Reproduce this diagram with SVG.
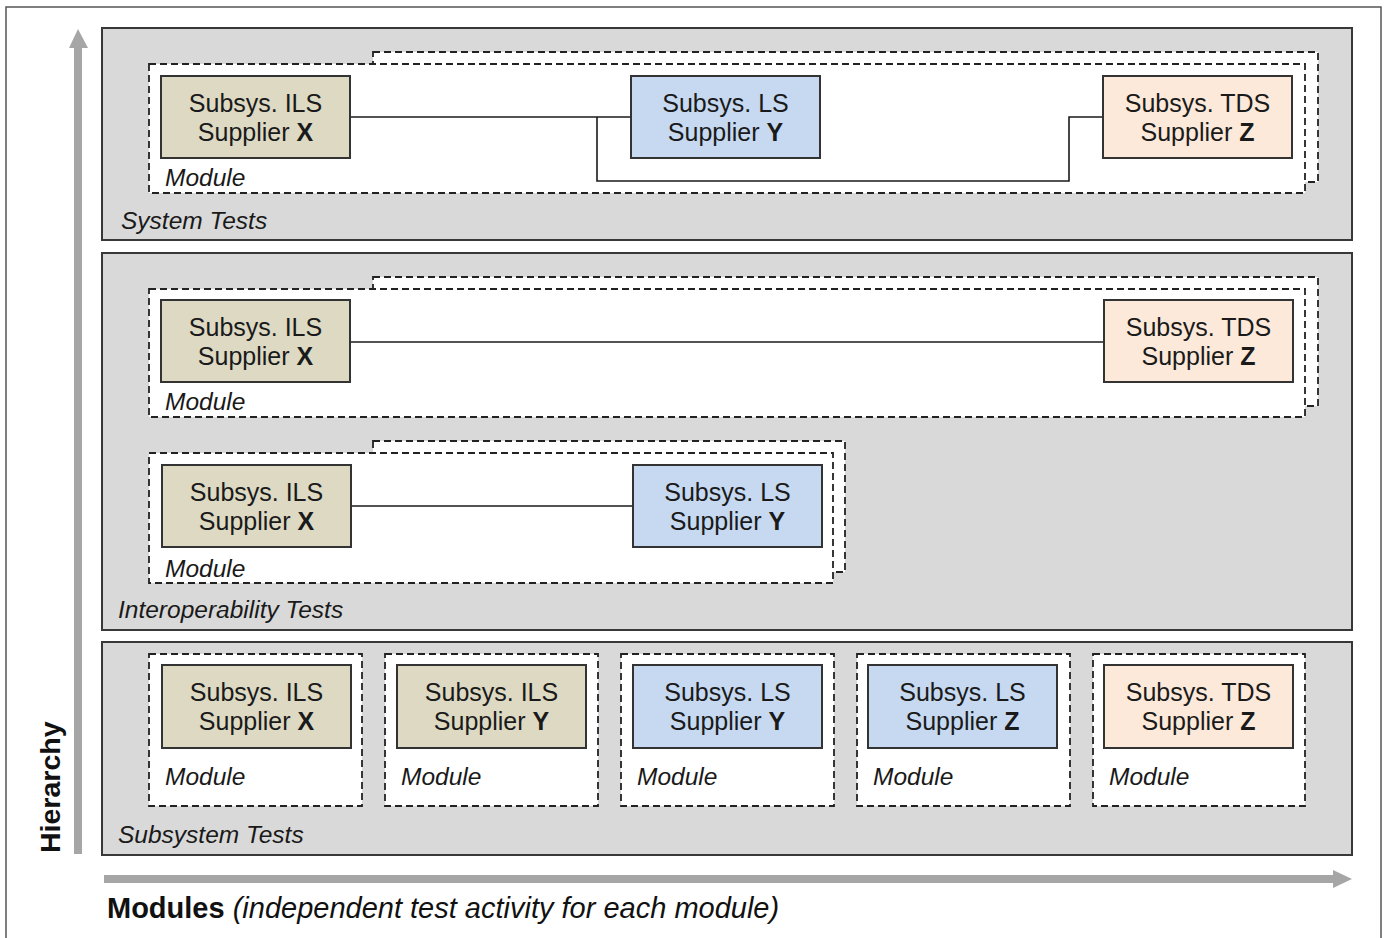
<svg xmlns="http://www.w3.org/2000/svg" width="1387" height="938" viewBox="0 0 1387 938">
<style>
.frame{fill:#fff;stroke:#555;stroke-width:1.5}
.panel{fill:#d9d9d9;stroke:#383838;stroke-width:2}
.mod{fill:#fff;stroke:#222;stroke-width:1.8;stroke-dasharray:7 4}
.node{stroke:#333;stroke-width:2}
.ils{fill:#ddd9c3}
.ls{fill:#c6d9f1}
.tds{fill:#fde9d9}
.t{font-family:"Liberation Sans",Arial,sans-serif;font-size:24.5px;fill:#1a1a1a}
.c{text-anchor:middle;font-size:25px}
.i{font-style:italic}
.b{font-weight:bold}
.conn{fill:none;stroke:#1a1a1a;stroke-width:1.6}
.axis{fill:#a6a6a6}
.big{font-family:"Liberation Sans",Arial,sans-serif;font-size:29px;fill:#111}
</style>
<rect class="frame" x="6" y="7" width="1375" height="940"/>
<g id="axes">
<rect class="axis" x="74" y="46" width="8" height="808"/>
<polygon class="axis" points="69,48 78,29 88,48"/>
<rect class="axis" x="104" y="875" width="1232" height="8"/>
<polygon class="axis" points="1333,870 1352,879 1333,888"/>
<text class="big b" transform="translate(60,853) rotate(-90)" style="font-size:28.5px">Hierarchy</text>
<text class="big" x="107" y="918"><tspan class="b">Modules</tspan> <tspan class="i">(independent test activity for each module)</tspan></text>
</g>

<g id="system-tests">
<rect class="panel" x="102" y="28" width="1250" height="212"/>
<text class="t i" x="121" y="229">System Tests</text>
<g id="sys-module">
<rect class="mod" x="373" y="52" width="945" height="130"/>
<rect class="mod" x="149" y="64" width="1156" height="129"/>
<text class="t i" x="165" y="186">Module</text>
</g>
</g>

<g id="interop-tests">
<rect class="panel" x="102" y="253" width="1250" height="377"/>
<text class="t i" x="118" y="618">Interoperability Tests</text>
<g id="interop-module-1">
<rect class="mod" x="373" y="277" width="945" height="129"/>
<rect class="mod" x="149" y="289" width="1156" height="128"/>
<text class="t i" x="165" y="410">Module</text>
</g>
<g id="interop-module-2">
<rect class="mod" x="373" y="441" width="472" height="131"/>
<rect class="mod" x="149" y="453" width="684" height="130"/>
<text class="t i" x="165" y="577">Module</text>
</g>
</g>

<g id="subsystem-tests">
<rect class="panel" x="102" y="642" width="1250" height="213"/>
<text class="t i" x="118" y="843">Subsystem Tests</text>
<g id="sub-module-1"><rect class="mod" x="149" y="654" width="213" height="152"/><text class="t i" x="165" y="785">Module</text></g>
<g id="sub-module-2"><rect class="mod" x="385" y="654" width="213" height="152"/><text class="t i" x="401" y="785">Module</text></g>
<g id="sub-module-3"><rect class="mod" x="621" y="654" width="213" height="152"/><text class="t i" x="637" y="785">Module</text></g>
<g id="sub-module-4"><rect class="mod" x="857" y="654" width="213" height="152"/><text class="t i" x="873" y="785">Module</text></g>
<g id="sub-module-5"><rect class="mod" x="1093" y="654" width="212" height="152"/><text class="t i" x="1109" y="785">Module</text></g>
</g>

<g id="connectors">
<path class="conn" d="M350,117 H631"/>
<path class="conn" d="M597,117 V181 H1069 V117 H1103"/>
<path class="conn" d="M350,342 H1104"/>
<path class="conn" d="M351,506 H633"/>
</g>

<g id="sys-ils">
<rect class="node ils" x="161" y="76" width="189" height="82"/>
<text class="t c" x="255.5" y="112">Subsys. ILS</text>
<text class="t c" x="255.5" y="141">Supplier <tspan class="b">X</tspan></text>
</g>
<g id="sys-ls">
<rect class="node ls" x="631" y="76" width="189" height="82"/>
<text class="t c" x="725.5" y="112">Subsys. LS</text>
<text class="t c" x="725.5" y="141">Supplier <tspan class="b">Y</tspan></text>
</g>
<g id="sys-tds">
<rect class="node tds" x="1103" y="76" width="189" height="82"/>
<text class="t c" x="1197.5" y="112">Subsys. TDS</text>
<text class="t c" x="1197.5" y="141">Supplier <tspan class="b">Z</tspan></text>
</g>

<g id="io1-ils">
<rect class="node ils" x="161" y="300" width="189" height="82"/>
<text class="t c" x="255.5" y="336">Subsys. ILS</text>
<text class="t c" x="255.5" y="365">Supplier <tspan class="b">X</tspan></text>
</g>
<g id="io1-tds">
<rect class="node tds" x="1104" y="300" width="189" height="82"/>
<text class="t c" x="1198.5" y="336">Subsys. TDS</text>
<text class="t c" x="1198.5" y="365">Supplier <tspan class="b">Z</tspan></text>
</g>

<g id="io2-ils">
<rect class="node ils" x="162" y="465" width="189" height="82"/>
<text class="t c" x="256.5" y="501">Subsys. ILS</text>
<text class="t c" x="256.5" y="530">Supplier <tspan class="b">X</tspan></text>
</g>
<g id="io2-ls">
<rect class="node ls" x="633" y="465" width="189" height="82"/>
<text class="t c" x="727.5" y="501">Subsys. LS</text>
<text class="t c" x="727.5" y="530">Supplier <tspan class="b">Y</tspan></text>
</g>

<g id="sub-ils-x">
<rect class="node ils" x="162" y="665" width="189" height="83"/>
<text class="t c" x="256.5" y="701">Subsys. ILS</text>
<text class="t c" x="256.5" y="730">Supplier <tspan class="b">X</tspan></text>
</g>
<g id="sub-ils-y">
<rect class="node ils" x="397" y="665" width="189" height="83"/>
<text class="t c" x="491.5" y="701">Subsys. ILS</text>
<text class="t c" x="491.5" y="730">Supplier <tspan class="b">Y</tspan></text>
</g>
<g id="sub-ls-y">
<rect class="node ls" x="633" y="665" width="189" height="83"/>
<text class="t c" x="727.5" y="701">Subsys. LS</text>
<text class="t c" x="727.5" y="730">Supplier <tspan class="b">Y</tspan></text>
</g>
<g id="sub-ls-z">
<rect class="node ls" x="868" y="665" width="189" height="83"/>
<text class="t c" x="962.5" y="701">Subsys. LS</text>
<text class="t c" x="962.5" y="730">Supplier <tspan class="b">Z</tspan></text>
</g>
<g id="sub-tds-z">
<rect class="node tds" x="1104" y="665" width="189" height="83"/>
<text class="t c" x="1198.5" y="701">Subsys. TDS</text>
<text class="t c" x="1198.5" y="730">Supplier <tspan class="b">Z</tspan></text>
</g>
</svg>
